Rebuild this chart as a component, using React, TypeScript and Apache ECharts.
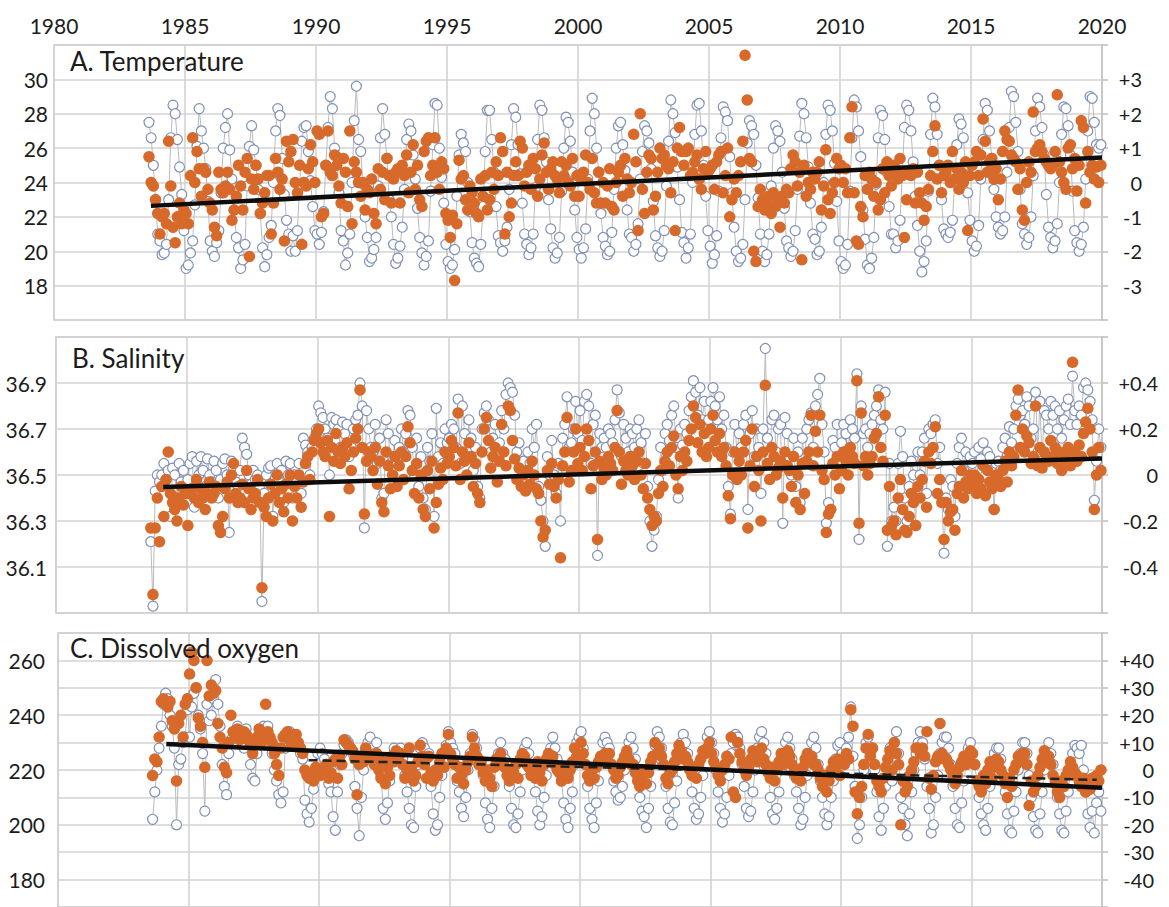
import React, { useEffect, useRef } from "react";
import * as echarts from "echarts";

// Monthly samples: August 1983 through December 2019
const START_YEAR = 1983;
const START_MONTH = 7; // 0-based month index (August)

const panelTitles = ["A. Temperature", "B. Salinity", "C. Dissolved oxygen"];

// A. Temperature (°C) – observed values (left axis)
const tempRaw = [
  27.5, 26.6, 25.0, 23.0, 21.0,
  20.6, 19.8, 19.9, 20.4, 23.0, 26.6, 28.5, 28.0, 26.5, 24.9, 23.3, 21.2,
  19.0, 19.2, 19.9, 20.6, 22.7, 26.1, 28.3, 27.0, 26.0, 24.8, 22.9, 20.6,
  20.0, 19.7, 20.5, 21.2, 23.4, 26.0, 27.2, 28.0, 25.9, 24.2, 22.4, 20.8,
  20.2, 19.0, 19.5, 20.4, 23.8, 26.1, 27.3, 25.9, 25.0, 23.6, 22.2, 20.2,
  19.1, 19.8, 20.8, 21.5, 24.0, 27.0, 28.3, 27.9, 25.4, 23.3, 21.8, 21.0,
  20.0, 20.9, 20.0, 21.2, 23.8, 26.4, 27.2, 27.3, 25.8, 24.1, 22.6, 21.2,
  21.0, 20.4, 21.1, 22.3, 25.0, 27.2, 29.0, 28.3, 26.0, 25.5, 23.4, 21.2,
  20.6, 19.2, 19.9, 21.0, 24.0, 27.6, 29.6, 26.5, 25.8, 23.9, 22.0, 20.8,
  19.4, 19.6, 20.1, 20.8, 23.8, 26.6, 28.3, 26.8, 25.4, 23.0, 22.0, 20.4,
  19.3, 19.6, 20.3, 21.4, 23.6, 26.5, 27.4, 27.0, 25.6, 24.2, 22.5, 20.8,
  19.9, 19.2, 19.7, 20.6, 23.5, 26.2, 28.6, 28.5, 26.0, 24.3, 22.8, 20.4,
  19.4, 19.0, 19.2, 20.1, 23.2, 25.6, 26.8, 26.3, 25.8, 24.0, 22.3, 20.5,
  19.6, 19.3, 19.1, 20.4, 22.6, 25.8, 28.2, 28.2, 26.5, 24.6, 22.6, 20.9,
  20.5, 20.0, 20.6, 21.4, 23.6, 26.2, 28.3, 27.8, 26.2, 24.5, 22.8, 21.0,
  20.4, 19.8, 20.2, 21.0, 23.7, 26.5, 28.5, 28.2, 26.6, 25.2, 23.0, 21.3,
  20.2, 19.6, 19.9, 20.8, 23.5, 26.0, 27.8, 27.5, 26.4, 24.6, 22.4, 20.8,
  20.1, 19.6, 20.2, 21.3, 24.2, 27.0, 28.9, 28.0, 26.0, 24.6, 22.2, 20.8,
  20.3, 19.8, 20.0, 21.1, 23.6, 26.0, 27.3, 27.5, 26.2, 24.7, 22.4, 21.0,
  20.8, 20.0, 20.4, 21.6, 24.2, 25.8, 27.3, 27.0, 26.3, 24.8, 22.9, 20.9,
  20.2, 19.7, 20.0, 21.2, 23.8, 26.4, 28.8, 28.0, 26.9, 24.9, 23.0, 21.1,
  20.5, 19.6, 20.2, 21.0, 24.0, 26.8, 28.5, 28.6, 27.0, 25.0, 23.2, 21.2,
  20.3, 19.3, 19.8, 20.9, 23.5, 26.6, 28.4, 28.1, 27.6, 25.5, 23.4, 21.4,
  20.0, 19.4, 19.6, 20.4, 23.0, 26.3, 27.6, 27.3, 26.8, 25.0, 23.1, 21.0,
  20.0, 19.4, 19.8, 21.0, 23.8, 26.0, 27.3, 27.0, 26.4, 24.6, 22.5, 20.6,
  20.2, 19.7, 20.0, 21.2, 23.6, 26.7, 28.6, 28.0, 26.6, 24.9, 22.8, 21.0,
  20.7, 19.8, 20.0, 21.4, 24.0, 26.8, 28.5, 28.2, 27.0, 25.1, 22.9, 20.6,
  19.4, 19.0, 19.2, 20.4, 23.5, 26.6, 28.8, 28.4, 27.0, 25.5, 22.4, 20.7,
  19.2, 19.0, 19.6, 20.8, 23.9, 26.6, 28.2, 27.9, 26.5, 24.6, 22.6, 21.0,
  21.0, 20.2, 20.6, 21.8, 24.4, 27.2, 28.5, 28.2, 27.0, 25.2, 23.2, 21.5,
  20.0, 18.8, 19.4, 20.6, 23.5, 26.8, 28.9, 28.4, 26.8, 25.0, 23.0, 21.3,
  21.0, 20.8, 21.1, 21.8, 24.0, 26.2, 27.7, 27.4, 26.6, 25.0, 23.4, 21.8,
  20.6, 20.0, 20.3, 21.5, 24.2, 26.5, 28.6, 28.2, 27.0, 25.4, 23.6, 22.0,
  21.4, 21.0, 21.2, 22.0, 24.6, 27.2, 29.3, 29.0, 27.5, 25.8, 23.6, 21.6,
  21.0, 20.4, 20.8, 22.0, 24.4, 27.0, 28.9, 28.4, 27.2, 25.6, 23.3, 21.4,
  20.8, 20.2, 20.6, 21.6, 24.0, 26.8, 28.4, 28.3, 27.3, 25.6, 23.5, 21.2,
  20.5, 20.0, 20.4, 21.4, 24.2, 27.0, 29.0, 28.9, 27.5, 26.2, 26.0, 26.2,
];

// A. Temperature anomalies (right axis)
const tempAnom = [
  0.75, 0.0, -0.1, -0.5, -0.9,
  -1.5, -1.0, -0.9, -1.2, 1.2, -0.1, -1.3, -1.75, -1.0, -0.6, -1.2, -0.8,
  -0.9, -1.2, 0.2, 1.3, 0.0, 0.9, 0.4, -0.4, 0.4, 0.3, -0.2, -0.6,
  -0.8, -1.3, -1.55, 0.3, -0.2, -0.3, -0.1, 0.3, -0.2, -1.1, -0.8, -0.4,
  0.5, -0.1, -0.8, 0.3, 0.7, -2.15, 0.1, -0.2, 0.5, 0.1, -0.9, -0.6,
  -0.3, 0.2, 0.2, -1.5, -0.6, 0.7, 0.3, -0.2, 0.1, -1.7, 1.2, 0.6,
  0.9, 1.25, 0.0, -0.3, 0.5, -1.8, 0.0, -0.1, 0.4, 1.1, 0.6, 0.0,
  1.5, 1.4, -1.0, -0.9, 0.5, 1.5, 0.3, 0.2, 0.8, 0.5, -0.1, -0.6,
  0.7, 0.3, -0.7, 1.5, -1.2, 0.6, 0.3, 0.0, -0.4, 0.0, -0.8, -0.2,
  -0.3, 0.1, -0.9, -1.2, 0.4, -0.2, 0.3, -0.5, 0.7, 0.2, -0.6, 0.1,
  0.3, 0.4, -0.6, 0.5, 0.2, 0.8, -0.3, 0.3, 1.1, -0.2, 0.5, -0.5,
  -0.7, 0.9, 1.2, 1.3, 0.2, 0.5, 1.3, 0.3, -0.2, 0.6, 0.4, -0.9,
  -1.1, -1.6, -0.95, -2.85, -1.2, 0.65, 0.1, 0.2, -0.5, -0.8, -0.1, -0.3,
  -0.6, -0.9, -1.0, 0.1, -0.4, 0.2, -0.8, -0.5, 0.3, -0.2, 0.6, 0.2,
  1.3, 0.9, -1.5, 0.3, -1.0, -0.6, 0.2, 0.6, 0.2, 1.2, 1.0, -0.1,
  0.3, 0.5, -0.2, 0.7, 0.4, -0.4, 0.1, 0.8, 1.15, 0.3, -0.2, 0.4,
  0.6, 0.2, 0.1, -0.3, 0.6, 0.2, 0.5, 0.0, -0.1, 0.7, -0.4, 0.2,
  -0.4, 0.1, 0.3, 0.8, 0.0, -0.2, 0.7, -0.3, -0.6, 0.3, -0.6, 0.0,
  -0.6, -0.1, 0.4, -0.7, -0.8, 0.0, 0.3, 0.5, -0.4, 0.7, 0.1, -0.3,
  0.0, 1.4, 0.6, -1.4, 2.0, -0.2, -0.9, 0.3, 0.8, 0.7, -0.8, -0.4,
  0.3, 1.0, 0.7, 0.8, 0.5, 0.4, -0.3, 0.6, -1.4, 1.0, 1.6, 0.9,
  0.5, 0.9, 1.0, 0.2, 0.3, 0.6, 0.8, 0.1, -0.2, 0.4, 0.9, 0.3,
  0.4, 0.5, -0.2, 0.6, 0.8, 0.9, -0.3, 0.2, 1.0, -1.0, -0.5, 0.1,
  -0.3, 0.2, 0.6, 1.2, 3.7, 2.4, 0.7, 0.6, -2.0, -2.3, -0.7, -0.2,
  -0.5, -0.8, -0.6, -0.4, -0.9, -0.3, -0.7, -0.5, -1.3, -0.4, -0.6, -0.2,
  -0.3, 0.4, 0.8, 0.6, -0.1, 0.3, -2.25, 0.5, -0.4, 0.0, -0.2, 0.3,
  0.1, 0.3, 0.6, -0.8, -0.1, 0.95, -0.5, -0.9, -0.3, 0.0, 0.7, 0.4,
  0.5, 0.0, 0.4, -0.3, 1.3, 2.2, -0.3, -1.7, -1.8, -0.7, -1.0, 0.2,
  -0.2, 0.3, 0.1, -0.4, 0.0, -0.8, -0.5, 0.4, -0.3, 0.6, 0.2, -0.1,
  0.5, 0.4, 0.1, 0.7, 0.2, -1.6, -0.5, 0.3, 0.2, 0.4, -0.6, 0.3,
  -0.3, -0.6, -1.1, -0.7, -0.2, 0.2, 0.9, 1.65, 0.1, 0.5, -0.3, 0.2,
  0.3, 0.5, 0.0, 0.9, 0.1, 0.4, -0.2, 0.3, 0.0, 0.6, -1.4, 0.2,
  0.5, 0.6, 0.9, 0.2, 0.8, 1.85, 1.2, 0.3, 0.6, 0.7, 0.1, 0.4,
  -0.5, 0.1, 0.9, 1.5, 1.25, 1.2, 0.8, 0.7, 0.6, -0.2, 0.4, -0.8,
  -1.1, 0.0, 0.6, 0.3, 2.05, 0.9, 1.0, 1.1, 0.9, 0.7, 0.6, 0.5,
  0.4, 0.5, 0.9, 2.55, 0.6, 0.3, 0.0, -0.2, 1.0, 1.1, 0.4, 0.7,
  -0.25, 0.5, 1.8, 1.6, -0.6, 0.9, 0.3, 0.5, 0.1, 0.45, 0.0, 0.5,
];

// B. Salinity – observed values (left axis)
const salRaw = [
  36.21, 35.93, 36.43, 36.50, 36.47,
  36.50, 36.55, 36.48, 36.52, 36.32, 36.53, 36.50, 36.40, 36.55, 36.47, 36.52, 36.45,
  36.48, 36.55, 36.58, 36.36, 36.56, 36.50, 36.58, 36.52, 36.45, 36.57, 36.50, 36.47,
  36.56, 36.52, 36.40, 36.48, 36.55, 36.57, 36.50, 36.25, 36.56, 36.53, 36.47, 36.45,
  36.52, 36.66, 36.62, 36.59, 36.50, 36.46, 36.52, 36.48, 36.50, 36.44, 35.95, 36.42,
  36.50, 36.53, 36.54, 36.32, 36.48, 36.55, 36.47, 36.52, 36.38, 36.56, 36.50, 36.55,
  36.40, 36.50, 36.47, 36.55, 36.42, 36.66, 36.63, 36.60, 36.50, 36.62, 36.66, 36.70,
  36.80, 36.77, 36.75, 36.70, 36.66, 36.50, 36.75, 36.72, 36.74, 36.70, 36.62, 36.73,
  36.68, 36.72, 36.58, 36.62, 36.70, 36.74, 36.76, 36.90, 36.80, 36.27, 36.78, 36.70,
  36.62, 36.60, 36.72, 36.55, 36.66, 36.40, 36.42, 36.74, 36.68, 36.55, 36.58, 36.65,
  36.55, 36.62, 36.70, 36.60, 36.68, 36.78, 36.76, 36.62, 36.50, 36.66, 36.45, 36.58,
  36.40, 36.35, 36.62, 36.56, 36.68, 36.32, 36.79, 36.58, 36.64, 36.55, 36.70, 36.64,
  36.66, 36.72, 36.70, 36.62, 36.83, 36.55, 36.80, 36.68, 36.58, 36.74, 36.66, 36.52,
  36.62, 36.45, 36.40, 36.70, 36.77, 36.80, 36.74, 36.60, 36.66, 36.72, 36.56, 36.64,
  36.78, 36.70, 36.85, 36.90, 36.88, 36.86, 36.76, 36.60, 36.64, 36.52, 36.56, 36.48,
  36.60, 36.55, 36.70, 36.62, 36.72, 36.45, 36.39, 36.30, 36.19, 36.58, 36.50, 36.65,
  36.50, 36.42, 36.55, 36.30, 36.66, 36.72, 36.84, 36.62, 36.64, 36.70, 36.82, 36.68,
  36.78, 36.65, 36.82, 36.85, 36.80, 36.55, 36.72, 36.76, 36.15, 36.68, 36.62, 36.66,
  36.62, 36.70, 36.68, 36.64, 36.74, 36.87, 36.77, 36.58, 36.72, 36.66, 36.60, 36.70,
  36.68, 36.62, 36.70, 36.74, 36.64, 36.55, 36.68, 36.45, 36.30, 36.19, 36.26, 36.32,
  36.48, 36.62, 36.52, 36.68, 36.72, 36.65, 36.76, 36.80, 36.62, 36.40, 36.70, 36.63,
  36.72, 36.68, 36.78, 36.84, 36.91, 36.86, 36.76, 36.88, 36.74, 36.82, 36.70, 36.74,
  36.82, 36.88, 36.80, 36.74, 36.84, 36.70, 36.76, 36.62, 36.45, 36.33, 36.60, 36.72,
  36.60, 36.68, 36.62, 36.72, 36.76, 36.35, 36.68, 36.78, 36.58, 36.70, 36.62, 36.42,
  36.70, 37.05, 36.66, 36.58, 36.74, 36.76, 36.60, 36.70, 36.72, 36.29, 36.75, 36.68,
  36.58, 36.50, 36.66, 36.45, 36.60, 36.38, 36.66, 36.55, 36.70, 36.74, 36.77, 36.62,
  36.80, 36.85, 36.92, 36.72, 36.60, 36.29, 36.38, 36.35, 36.65, 36.62, 36.72, 36.55,
  36.64, 36.72, 36.68, 36.60, 36.74, 36.70, 36.66, 36.94, 36.22, 36.80, 36.68, 36.70,
  36.62, 36.68, 36.72, 36.76, 36.80, 36.87, 36.74, 36.70, 36.86, 36.19, 36.55, 36.30,
  36.36, 36.30, 36.55, 36.69, 36.58, 36.40, 36.30, 36.45, 36.56, 36.50, 36.28, 36.60,
  36.50, 36.60, 36.66, 36.42, 36.70, 36.68, 36.72, 36.74, 36.55, 36.62, 36.40, 36.16,
  36.40, 36.35, 36.48, 36.45, 36.32, 36.55, 36.62, 36.66, 36.52, 36.60, 36.48, 36.58,
  36.55, 36.60, 36.48, 36.62, 36.57, 36.64, 36.50, 36.60, 36.58, 36.52, 36.35, 36.55,
  36.56, 36.52, 36.62, 36.66, 36.58, 36.71, 36.64, 36.70, 36.80, 36.83, 36.76, 36.78,
  36.72, 36.84, 36.80, 36.66, 36.70, 36.86, 36.60, 36.82, 36.56, 36.78, 36.76, 36.70,
  36.82, 36.76, 36.80, 36.70, 36.78, 36.66, 36.74, 36.80, 36.83, 36.72, 36.93, 36.78,
  36.72, 36.80, 36.76, 36.88, 36.90, 36.87, 36.82, 36.74, 36.39, 36.56, 36.70, 36.62,
];

// B. Salinity anomalies (right axis)
const salAnom = [
  -0.23, -0.52, -0.23, -0.10, -0.29,
  -0.05, -0.18, -0.02, 0.10, -0.08, -0.12, -0.15, -0.20, -0.10, -0.05, -0.13, -0.08,
  -0.22, -0.08, -0.06, -0.10, -0.02, -0.12, -0.06, -0.10, -0.15, -0.08, -0.03, -0.10,
  -0.08, -0.05, -0.22, -0.25, -0.18, -0.06, -0.03, -0.10, 0.00, 0.05, -0.08, -0.12,
  -0.10, -0.04, -0.12, 0.02, -0.06, -0.15, -0.10, -0.08, -0.02, -0.12, -0.49, -0.14,
  -0.18, -0.10, -0.04, -0.20, -0.08, 0.00, -0.12, -0.06, -0.16, -0.04, -0.10, 0.00,
  -0.20, -0.05, -0.10, 0.00, -0.14, -0.03, 0.05, 0.08, -0.02, 0.10, 0.15, 0.18,
  0.20, 0.14, 0.10, 0.08, 0.15, -0.18, 0.12, 0.06, 0.18, 0.10, 0.05, 0.12,
  0.08, 0.14, -0.06, 0.02, 0.10, 0.16, 0.20, 0.37, 0.12, -0.17, 0.06, 0.10,
  0.08, 0.02, 0.12, -0.04, 0.06, -0.12, -0.16, 0.10, 0.04, -0.06, 0.00, 0.08,
  -0.05, 0.04, 0.10, -0.02, 0.08, 0.21, 0.14, 0.02, -0.08, 0.05, -0.10, 0.00,
  -0.15, -0.18, 0.02, -0.06, 0.06, -0.23, -0.12, -0.04, 0.03, -0.02, 0.10, 0.05,
  0.08, 0.15, 0.12, 0.04, 0.27, -0.02, 0.10, 0.06, 0.00, 0.14, 0.08, -0.05,
  0.05, -0.08, -0.12, 0.10, 0.20, 0.25, 0.15, 0.03, 0.08, 0.12, -0.03, 0.06,
  0.22, 0.10, 0.04, 0.30, 0.28, 0.15, 0.07, -0.02, 0.03, -0.05, 0.00, -0.07,
  0.02, -0.04, 0.06, 0.00, -0.06, -0.08, -0.20, -0.27, -0.24, 0.02, -0.04, 0.05,
  -0.05, -0.10, -0.02, -0.36, 0.04, 0.10, 0.25, -0.03, 0.02, 0.10, 0.20, 0.05,
  0.12, 0.02, 0.08, 0.20, 0.15, -0.06, 0.04, 0.10, -0.28, 0.06, -0.02, 0.03,
  0.00, 0.08, 0.05, 0.02, 0.12, 0.28, 0.10, -0.04, 0.06, 0.02, 0.00, 0.08,
  0.04, -0.02, 0.06, 0.10, 0.00, -0.06, 0.05, -0.10, -0.15, -0.22, -0.18, -0.20,
  -0.08, 0.02, -0.05, 0.06, 0.10, 0.04, 0.12, 0.17, 0.00, -0.06, 0.08, 0.02,
  0.10, 0.06, 0.15, 0.20, 0.30, 0.25, 0.14, 0.22, 0.10, 0.18, 0.08, 0.12,
  0.20, 0.26, 0.15, 0.10, 0.18, 0.08, 0.12, 0.04, -0.09, -0.19, 0.00, 0.10,
  -0.02, 0.06, 0.00, 0.10, 0.15, -0.23, 0.04, 0.20, -0.05, 0.08, 0.02, -0.20,
  0.10, 0.39, 0.05, -0.02, 0.12, 0.08, 0.00, 0.03, 0.06, -0.10, 0.10, 0.04,
  0.02, -0.05, 0.08, -0.12, 0.00, -0.15, 0.05, -0.08, 0.06, 0.10, 0.26, 0.04,
  0.19, 0.10, 0.26, 0.02, -0.02, -0.25, -0.17, -0.15, 0.05, 0.00, 0.08, -0.06,
  0.02, 0.10, 0.06, 0.00, 0.12, 0.08, 0.05, 0.41, -0.21, 0.27, 0.04, 0.08,
  0.00, 0.05, 0.08, 0.16, 0.18, 0.34, 0.12, 0.06, 0.26, -0.24, -0.05, -0.22,
  -0.20, -0.26, -0.10, -0.02, -0.15, -0.24, -0.25, -0.18, -0.08, -0.12, -0.22, -0.05,
  -0.10, -0.02, 0.06, -0.14, 0.10, 0.05, 0.12, 0.21, -0.08, -0.02, -0.12, -0.28,
  -0.12, -0.20, -0.16, -0.15, -0.24, -0.08, -0.05, 0.02, -0.10, -0.03, -0.06, 0.00,
  -0.04, 0.00, -0.08, -0.02, -0.06, 0.04, -0.09, 0.02, -0.03, -0.06, -0.15, 0.00,
  -0.02, -0.05, 0.02, 0.06, -0.03, 0.10, 0.04, 0.08, 0.26, 0.37, 0.12, 0.20,
  0.10, 0.17, 0.14, 0.05, 0.08, 0.30, 0.04, 0.12, 0.03, 0.10, 0.08, 0.06,
  0.15, 0.08, 0.12, 0.05, 0.10, 0.02, 0.06, 0.08, 0.12, 0.04, 0.49, 0.10,
  0.06, 0.13, 0.08, 0.18, 0.23, 0.29, 0.20, 0.10, -0.15, 0.00, 0.12, 0.02,
];

// C. Dissolved oxygen – observed values (left axis)
const oxyRaw = [
  202, 212, 220, 228, 236,
  244, 248, 246, 240, 236, 228, 200, 222, 224, 230, 232, 242,
  232, 243, 248, 250, 240, 235, 226, 205, 244, 238, 240, 246,
  253, 244, 236, 222, 214, 211, 226, 231, 234, 232, 236, 233,
  230, 228, 235, 232, 222, 217, 216, 226, 230, 233, 236, 234,
  236, 230, 226, 220, 216, 211, 208, 212, 228, 232, 234, 233,
  232, 230, 228, 226, 224, 209, 204, 201, 206, 213, 220, 226,
  228, 226, 224, 222, 215, 212, 203, 198, 212, 222, 226, 229,
  231, 230, 228, 226, 214, 206, 196, 210, 220, 228, 230, 232,
  228, 226, 230, 224, 218, 206, 202, 208, 216, 224, 228, 226,
  226, 228, 224, 218, 212, 206, 200, 199, 214, 222, 228, 230,
  228, 224, 226, 214, 204, 198, 200, 210, 218, 224, 229, 234,
  230, 228, 226, 216, 212, 206, 203, 210, 220, 226, 233, 231,
  228, 224, 222, 218, 208, 202, 199, 206, 214, 222, 226, 230,
  226, 224, 220, 214, 206, 200, 199, 204, 212, 220, 228, 230,
  226, 222, 218, 212, 205, 200, 203, 210, 218, 224, 228, 232,
  228, 224, 220, 216, 208, 202, 199, 206, 212, 222, 230, 232,
  234, 228, 222, 214, 206, 202, 199, 208, 216, 224, 230, 232,
  230, 228, 222, 216, 212, 209, 210, 214, 220, 226, 230, 232,
  228, 224, 218, 210, 205, 203, 199, 206, 214, 222, 229, 234,
  232, 228, 222, 214, 206, 201, 200, 208, 216, 224, 230, 233,
  230, 226, 220, 212, 206, 202, 204, 210, 218, 226, 232, 234,
  230, 226, 220, 212, 206, 201, 204, 210, 218, 226, 230, 233,
  232, 228, 222, 214, 206, 203, 205, 212, 220, 228, 232, 234,
  230, 226, 220, 210, 204, 202, 206, 212, 220, 226, 230, 232,
  228, 224, 218, 212, 206, 200, 202, 210, 218, 226, 230, 232,
  228, 222, 216, 210, 204, 200, 203, 210, 216, 224, 229, 230,
  226, 224, 228, 232, 243, 225, 214, 195, 200, 210, 220, 230,
  232, 226, 228, 220, 212, 203, 198, 206, 214, 222, 228, 216,
  230, 234, 226, 210, 206, 200, 196, 204, 212, 220, 226, 230,
  234, 230, 224, 214, 206, 197, 200, 210, 218, 226, 230, 232,
  232, 228, 222, 214, 206, 200, 199, 208, 216, 222, 228, 230,
  226, 222, 216, 210, 204, 200, 198, 206, 214, 222, 226, 228,
  228, 224, 218, 212, 204, 198, 197, 205, 212, 220, 226, 230,
  230, 226, 218, 210, 203, 198, 197, 204, 212, 220, 226, 230,
  226, 222, 216, 210, 204, 198, 197, 205, 212, 220, 226, 229,
  228, 226, 229, 220, 212, 204, 199, 205, 197, 208, 212, 205,
];

// C. Dissolved oxygen anomalies (right axis)
const oxyAnom = [
  -2, 4, 3, 12, 25,
  26, 24, 23, 25, 18, 15, -4, 17, 20, 12, 24, 26,
  35, 43, 40, 30, 19, 16, 10, 1, 40, 27, 31, 28,
  29, 17, 12, 8, 1, -1, 10, 20, 14, 12, 15, 11,
  12, 14, 13, 11, 9, 6, 10, 12, 15, 10, 13, 24,
  14, 12, 10, 6, 2, -2, 8, 12, 13, 14, 11, 9,
  12, 13, 10, 8, 6, 0, -2, -3, -1, -4, 1, -2,
  -2, 0, 1, 2, -3, -1, 3, 4, -3, 5, 2, 11,
  10, 9, 8, 7, 4, -9, 2, 5, 3, 8, 6, 5,
  4, 2, 6, 0, -3, 3, -5, 1, -2, 5, 3, 7,
  4, 6, 2, -3, 0, 8, 1, -4, -2, 3, 9, 5,
  2, -3, 5, -1, -4, 0, -2, 3, 6, 1, 8, 13,
  6, 4, 2, -3, 1, -2, -5, 0, 3, 5, 12, 8,
  5, 2, 3, -1, -4, 0, -3, -6, 1, 4, 2, 6,
  3, 1, -2, -4, 0, -1, 2, -3, 4, 6, 5, 2,
  1, -2, 0, -3, 3, -1, -4, 2, 4, 6, 3, 5,
  2, 0, -1, -4, -2, 1, -3, 0, 3, 8, 5, 4,
  10, 6, 2, -2, -4, 0, -3, 1, 3, 5, 4, 6,
  4, 6, 2, 0, -3, -2, 1, 3, 5, 7, 4, 2,
  2, -1, -4, -6, -2, 0, -5, -1, 3, 5, 10, 6,
  8, 5, 2, -3, -5, -1, 0, 3, 6, 9, 7, 4,
  5, 3, 0, -2, 1, -3, 2, 4, 7, 6, 8, 10,
  6, 3, 1, -2, -4, 0, 2, 5, 4, 12, -8, -10,
  10, 6, 3, 0, -2, 1, 4, 7, 5, 3, 6, 8,
  4, 2, -1, -3, 1, -4, 0, 3, 6, 2, 5, 7,
  5, 2, -1, -3, 0, -4, 1, 4, 6, 3, 5, 2,
  2, 0, -3, -6, -2, -8, -4, 0, 3, 1, 4, -2,
  3, 2, 6, 4, 22, 16, -8, -16, -10, -6, 2, 8,
  13, 5, 8, 2, -4, -6, -8, -3, 1, 4, 7, 0,
  10, 6, 2, -20, -4, -8, -6, -2, 0, 3, 8, 8,
  6, 8, 5, 14, -3, -7, -2, 3, 5, 17, 6, 4,
  4, 2, 0, -3, -5, -2, 1, 3, 5, 2, 4, 7,
  6, 2, -4, -6, -8, -2, -5, 0, 3, -3, 1, 4,
  3, 0, -2, -5, -10, -3, -6, 0, 2, 5, 4, 6,
  6, 2, -13, -4, -8, -6, -2, 1, 4, 7, 3, 5,
  2, -2, -5, -8, -10, -4, -6, -2, 0, 3, 1, -1,
  -2, -4, -6, -3, -8, -5, -7, -3, -5, -2, -4, 0,
];

// Linear trends (right-axis anomaly units): [year, value]
const tempTrend = [[1983.7, -0.68], [2020, 0.73]];
const salTrend = [[1984.1, -0.052], [2020, 0.072]];
const oxyTrend = [[1984.15, 9.5], [2020, -6.5]];
const oxyTrend1990 = [[1989.6, 3.6], [2019.8, -3.6]];

const FONT = "Lato, 'Open Sans', sans-serif";
const TEXT = "#1c1c1c";
const ORANGE = "#d76a2a";
const RING = "#8191b6";
const GRID_LINE = "#d3d3d3";
const BORDER = "#c4c4c4";

const toPoints = (arr: number[]) =>
  arr.map((v, i) => [START_YEAR + (START_MONTH + i + 0.5) / 12, v]);

const plusFmt = (v: number, digits: number, limit: number) => {
  const r = Math.round(v * Math.pow(10, digits)) / Math.pow(10, digits);
  if (Math.abs(r) > limit + 1e-9) return "";
  if (Math.abs(r) < 1e-9) return "0";
  return (r > 0 ? "+" : "") + r.toFixed(digits);
};

export default function App() {
  const ref = useRef<HTMLDivElement>(null);

  useEffect(() => {
    if (!ref.current) return;
    const chart = echarts.init(ref.current, undefined, { renderer: "svg" });

    const gridDefs = [
      { left: 54, top: 45, height: 275 },
      { left: 56, top: 337, height: 276 },
      { left: 58, top: 633, height: 275 },
    ];

    const grid = gridDefs.map((g) => ({
      left: g.left,
      right: 67,
      top: g.top,
      height: g.height,
      show: true,
      borderColor: BORDER,
      borderWidth: 1.5,
      containLabel: false,
    }));

    const xAxis = gridDefs.map((_, i) => ({
      type: "value",
      gridIndex: i,
      min: 1980,
      max: 2020,
      interval: 5,
      position: "top",
      axisLine: { show: false },
      axisTick: { show: false },
      axisLabel: {
        show: i === 0,
        margin: 9,
        fontSize: 21,
        fontFamily: FONT,
        color: TEXT,
        formatter: (v: number) => String(v),
      },
      splitLine: { show: true, lineStyle: { color: GRID_LINE, width: 1.6 } },
    }));

    const leftAxisBase = (gridIndex: number, margin: number) => ({
      type: "value",
      gridIndex,
      position: "left",
      axisLine: { show: false },
      axisTick: { show: false },
      splitLine: { show: true, lineStyle: { color: GRID_LINE, width: 1.6 } },
      axisLabel: { margin, fontSize: 21, fontFamily: FONT, color: TEXT },
    });
    const rightAxisBase = (gridIndex: number, margin: number) => ({
      type: "value",
      gridIndex,
      position: "right",
      axisLine: { show: true, lineStyle: { color: BORDER, width: 1.5 } },
      axisTick: { show: true, inside: false, length: 6, lineStyle: { color: "#bdbdbd", width: 1.5 } },
      splitLine: { show: false },
      axisLabel: { margin, align: "right", fontSize: 20, fontFamily: FONT, color: TEXT },
    });

    const yAxis: any[] = [
      {
        ...leftAxisBase(0, 6),
        min: 16,
        max: 32,
        interval: 2,
        axisLabel: {
          ...leftAxisBase(0, 6).axisLabel,
          formatter: (v: number) => (v >= 18 && v <= 30 ? String(v) : ""),
        },
      },
      {
        ...rightAxisBase(0, 40),
        min: -4,
        max: 4,
        interval: 1,
        axisLabel: { ...rightAxisBase(0, 40).axisLabel, formatter: (v: number) => plusFmt(v, 0, 3) },
      },
      {
        ...leftAxisBase(1, 9),
        min: 35.9,
        max: 37.1,
        interval: 0.2,
        axisLabel: {
          ...leftAxisBase(1, 9).axisLabel,
          formatter: (v: number) => {
            const r = Math.round(v * 10) / 10;
            return r >= 36.05 && r <= 36.95 ? r.toFixed(1) : "";
          },
        },
      },
      {
        ...rightAxisBase(1, 56),
        min: -0.6,
        max: 0.6,
        interval: 0.2,
        axisLabel: { ...rightAxisBase(1, 56).axisLabel, formatter: (v: number) => plusFmt(v, 1, 0.4) },
      },
      {
        ...leftAxisBase(2, 13),
        min: 170,
        max: 270,
        interval: 10,
        axisLabel: {
          ...leftAxisBase(2, 13).axisLabel,
          formatter: (v: number) => (v >= 180 && v <= 260 && Math.round(v) % 20 === 0 ? String(Math.round(v)) : ""),
        },
      },
      {
        ...rightAxisBase(2, 52),
        min: -50,
        max: 50,
        interval: 10,
        axisLabel: { ...rightAxisBase(2, 52).axisLabel, formatter: (v: number) => plusFmt(v, 0, 40) },
      },
    ];

    const panels = [
      { raw: tempRaw, anom: tempAnom, trends: [tempTrend] },
      { raw: salRaw, anom: salAnom, trends: [salTrend] },
      { raw: oxyRaw, anom: oxyAnom, trends: [oxyTrend] },
    ];

    const series: any[] = [];
    panels.forEach((p, i) => {
      series.push({
        type: "line",
        xAxisIndex: i,
        yAxisIndex: 2 * i,
        data: toPoints(p.raw),
        symbol: "circle",
        symbolSize: 10,
        showAllSymbol: true,
        itemStyle: { color: "#ffffff", borderColor: RING, borderWidth: 1.2 },
        lineStyle: { color: "#bababa", width: 1 },
        z: 2,
        silent: true,
      });
      series.push({
        type: "scatter",
        xAxisIndex: i,
        yAxisIndex: 2 * i + 1,
        data: toPoints(p.anom),
        symbol: "circle",
        symbolSize: 11.5,
        itemStyle: { color: ORANGE, opacity: 1 },
        z: 3,
        silent: true,
      });
      p.trends.forEach((t) => {
        series.push({
          type: "line",
          xAxisIndex: i,
          yAxisIndex: 2 * i + 1,
          data: t,
          symbol: "none",
          lineStyle: { color: "#0d0d0d", width: 4.5 },
          z: 5,
          silent: true,
        });
      });
    });
    series.push({
      type: "line",
      xAxisIndex: 2,
      yAxisIndex: 5,
      data: oxyTrend1990,
      symbol: "none",
      lineStyle: { color: "#222222", width: 2.5, type: [9, 5] },
      z: 4,
      silent: true,
    });

    const titlePos = [
      { left: 70, top: 48 },
      { left: 72, top: 345 },
      { left: 70, top: 635 },
    ];

    chart.setOption({
      animation: false,
      backgroundColor: "#ffffff",
      grid,
      xAxis,
      yAxis,
      series,
      graphic: panelTitles.map((t, i) => ({
        type: "text",
        left: titlePos[i].left,
        top: titlePos[i].top,
        z: 10,
        style: { text: t, font: `26px ${FONT}`, fill: TEXT },
      })),
    });

    return () => chart.dispose();
  }, []);

  return (
    <div
      ref={ref}
      style={{ position: "fixed", left: 0, top: 0, width: 1169, height: 907, background: "#fff" }}
    />
  );
}
